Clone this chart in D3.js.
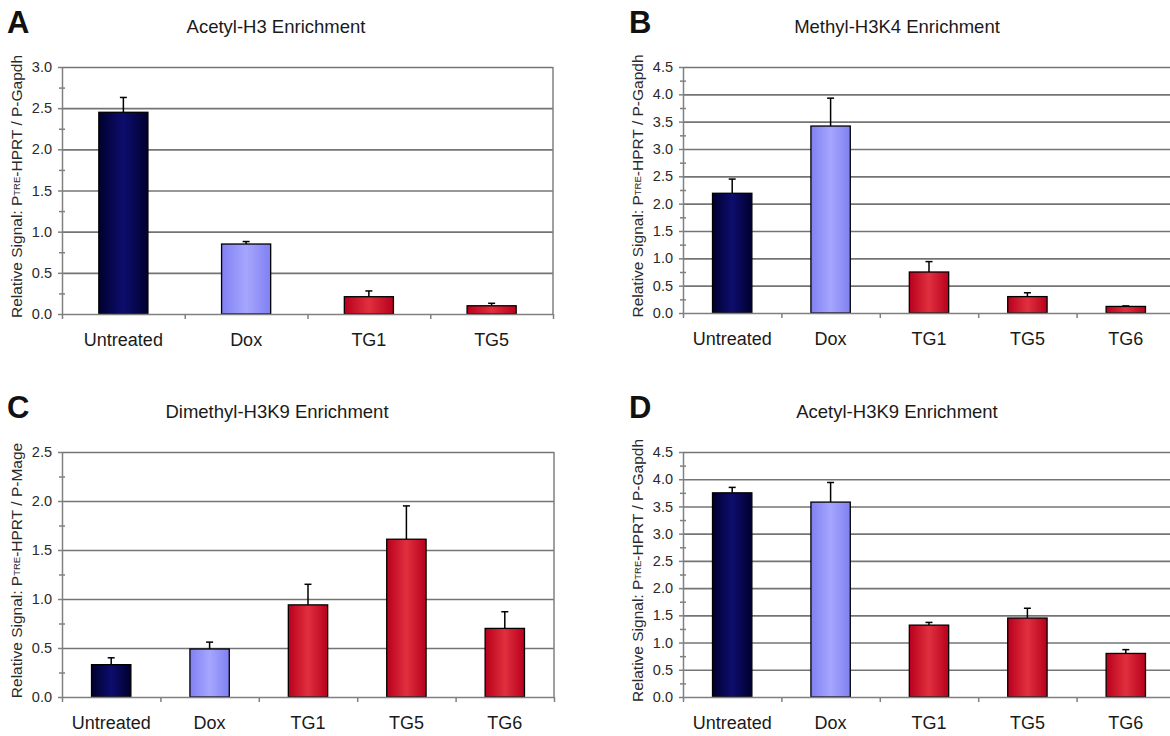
<!DOCTYPE html>
<html>
<head>
<meta charset="utf-8">
<script src="https://cdn.jsdelivr.net/npm/d3@7"></script>
<style>
  body { margin: 0; background: #fff; }
  svg { display: block; font-family: "Liberation Sans", Arial, sans-serif; }
  .domain { stroke: #808080; stroke-width: 1.5; }
  .tick line { stroke: #808080; stroke-width: 1.5; }
  .grid .tick line { stroke: #747474; stroke-width: 1.6; }
  .grid .domain { display: none; }
</style>
</head>
<body>
<script>
// values (bar height, upward error)
var categoriesA = ['Untreated', 'Dox', 'TG1', 'TG5'];
var valuesA = [2.45, 0.85, 0.21, 0.10];
var errorsA = [0.18, 0.03, 0.07, 0.03];

var categoriesB = ['Untreated', 'Dox', 'TG1', 'TG5', 'TG6'];
var valuesB = [2.19, 3.42, 0.75, 0.30, 0.12];
var errorsB = [0.26, 0.51, 0.19, 0.07, 0.01];

var categoriesC = ['Untreated', 'Dox', 'TG1', 'TG5', 'TG6'];
var valuesC = [0.33, 0.49, 0.94, 1.61, 0.70];
var errorsC = [0.07, 0.07, 0.21, 0.34, 0.17];

var categoriesD = ['Untreated', 'Dox', 'TG1', 'TG5', 'TG6'];
var valuesD = [3.75, 3.58, 1.32, 1.45, 0.80];
var errorsD = [0.10, 0.36, 0.05, 0.18, 0.07];

var yTicksA = [0, 0.5, 1.0, 1.5, 2.0, 2.5, 3.0];
var yTicksB = [0, 0.5, 1.0, 1.5, 2.0, 2.5, 3.0, 3.5, 4.0, 4.5];
var yTicksC = [0, 0.5, 1.0, 1.5, 2.0, 2.5];
var yTicksD = [0, 0.5, 1.0, 1.5, 2.0, 2.5, 3.0, 3.5, 4.0, 4.5];

var svg = d3.select('body').append('svg')
            .attr('width', 1170)
            .attr('height', 736);

var defs = svg.append('defs');

// excel style "from center" gradients
var fills = {
  navy: ['#00002e', '#0d0d6e', '#00002e'],
  lav: ['#8080f2', '#a6a6ff', '#8080f2'],
  red: ['#b8001c', '#e0303e', '#b8001c']
};
Object.keys(fills).forEach(function (key) {
  var g = defs.append('linearGradient')
              .attr('id', 'grad-' + key)
              .attr('x1', 0).attr('x2', 1).attr('y1', 0).attr('y2', 0);
  fills[key].forEach(function (c, i) {
    g.append('stop').attr('offset', i / 2).attr('stop-color', c);
  });
});

var fillFor = function (cat) {
  if (cat === 'Untreated') return 'url(#grad-navy)';
  if (cat === 'Dox') return 'url(#grad-lav)';
  return 'url(#grad-red)';
};

var drawPanel = function (p) {
  var g = svg.append('g');
  var width = p.right - p.left;

  var y = d3.scaleLinear()
            .domain([0, d3.max(p.ticks)])
            .range([p.bottom, p.top]);

  var x = d3.scaleBand()
            .domain(p.categories)
            .range([p.left, p.right])
            .paddingInner(0.6)
            .paddingOuter(0.3);

  var xEdges = d3.scaleLinear()
                 .domain([0, p.categories.length])
                 .range([p.left, p.right]);

  // panel letter and title
  g.append('text')
   .attr('x', p.letterX)
   .attr('y', p.top - 34)
   .attr('font-size', 31)
   .attr('font-weight', 'bold')
   .attr('fill', '#111')
   .text(p.letter);

  g.append('text')
   .attr('x', p.titleX)
   .attr('y', p.top - 34)
   .attr('text-anchor', 'middle')
   .attr('font-size', 18.5)
   .attr('fill', '#1a1a1a')
   .text(p.title);

  // grid lines
  g.append('g')
   .attr('class', 'grid')
   .attr('transform', `translate(${p.left},0)`)
   .call(d3.axisLeft(y).tickValues(p.ticks.slice(1)).tickSize(-width).tickFormat(''));

  // right border
  g.append('line')
   .attr('x1', p.right).attr('x2', p.right)
   .attr('y1', p.top).attr('y2', p.bottom)
   .attr('stroke', '#808080')
   .attr('stroke-width', 1.5);

  // bars
  p.values.forEach(function (v, i) {
    var cat = p.categories[i];
    var cx = x(cat) + x.bandwidth() / 2;
    var top = y(v + p.errors[i]);

    g.append('line')
     .attr('x1', cx).attr('x2', cx)
     .attr('y1', y(v)).attr('y2', top)
     .attr('stroke', '#000')
     .attr('stroke-width', 1.5);
    g.append('line')
     .attr('x1', cx - 3.5).attr('x2', cx + 3.5)
     .attr('y1', top).attr('y2', top)
     .attr('stroke', '#000')
     .attr('stroke-width', 1.5);

    g.append('rect')
     .attr('x', x(cat))
     .attr('y', y(v))
     .attr('width', x.bandwidth())
     .attr('height', y(0) - y(v))
     .attr('fill', fillFor(cat))
     .attr('stroke', '#000')
     .attr('stroke-width', 1.3);
  });

  // y axis with minor ticks
  var minor = d3.range(0.25, d3.max(p.ticks), 0.5);
  g.append('g')
   .attr('transform', `translate(${p.left},0)`)
   .call(d3.axisLeft(y).tickValues(minor).tickSize(3).tickSizeInner(-3).tickFormat(''))
   .call(function (a) { a.select('.domain').remove(); })
   .selectAll('.tick line')
   .attr('x1', -3);

  var yAxis = g.append('g')
               .attr('transform', `translate(${p.left},0)`)
               .call(d3.axisLeft(y).tickValues(p.ticks).tickSize(4).tickSizeOuter(0).tickPadding(6).tickFormat(d3.format('.1f')));
  yAxis.selectAll('text')
       .attr('font-size', 14.5)
       .attr('fill', '#2a2a2a');

  // x axis, ticks between categories
  g.append('g')
   .attr('transform', `translate(0,${p.bottom})`)
   .call(d3.axisBottom(xEdges).tickValues(d3.range(p.categories.length + 1)).tickSize(5).tickSizeOuter(0).tickFormat(''));

  var xAxis = g.append('g')
               .attr('transform', `translate(0,${p.bottom})`)
               .call(d3.axisBottom(x).tickSize(0).tickPadding(19));
  xAxis.select('.domain').remove();
  xAxis.selectAll('text')
       .attr('font-size', 18)
       .attr('fill', '#1a1a1a');

  // y axis title
  var label = g.append('text')
               .attr('transform', `translate(${p.left - 40},${(p.top + p.bottom) / 2 - 4}) rotate(-90)`)
               .attr('text-anchor', 'middle')
               .attr('font-size', 15.5)
               .attr('fill', '#2a2a2a');
  label.append('tspan').text('Relative Signal: P');
  label.append('tspan').attr('font-size', 9.5).attr('dy', -2).text('TRE');
  label.append('tspan').attr('dy', 2).text('-HPRT / ' + p.ref);
};

drawPanel({
  letter: 'A', title: 'Acetyl-H3 Enrichment', ref: 'P-Gapdh',
  categories: categoriesA, values: valuesA, errors: errorsA, ticks: yTicksA,
  left: 62, right: 553, top: 67, bottom: 314, letterX: 7, titleX: 276
});
drawPanel({
  letter: 'B', title: 'Methyl-H3K4 Enrichment', ref: 'P-Gapdh',
  categories: categoriesB, values: valuesB, errors: errorsB, ticks: yTicksB,
  left: 683, right: 1175, top: 67, bottom: 313, letterX: 629, titleX: 897
});
drawPanel({
  letter: 'C', title: 'Dimethyl-H3K9 Enrichment', ref: 'P-Mage',
  categories: categoriesC, values: valuesC, errors: errorsC, ticks: yTicksC,
  left: 62, right: 554, top: 452, bottom: 697, letterX: 7, titleX: 277
});
drawPanel({
  letter: 'D', title: 'Acetyl-H3K9 Enrichment', ref: 'P-Gapdh',
  categories: categoriesD, values: valuesD, errors: errorsD, ticks: yTicksD,
  left: 683, right: 1175, top: 452, bottom: 697, letterX: 629, titleX: 897
});
</script>
</body>
</html>
